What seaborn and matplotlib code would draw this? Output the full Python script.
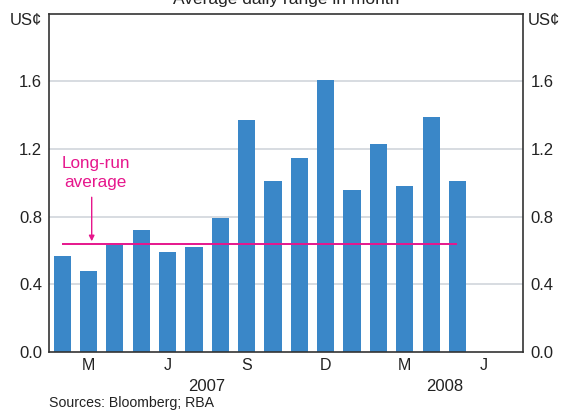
import numpy as np
import pandas as pd
import seaborn as sns
import matplotlib.pyplot as plt

# monthly data, Jan 2007 - Apr 2008 (axis runs to Jun 2008)
months = ["Jan-07", "Feb-07", "Mar-07", "Apr-07", "May-07", "Jun-07",
          "Jul-07", "Aug-07", "Sep-07", "Oct-07", "Nov-07", "Dec-07",
          "Jan-08", "Feb-08", "Mar-08", "Apr-08", "May-08", "Jun-08"]
avg_range = [0.57, 0.48, 0.63, 0.72, 0.59, 0.62, 0.79, 1.37,
             1.01, 1.15, 1.61, 0.96, 1.23, 0.98, 1.39, 1.01]
long_run_avg = 0.64

quarter_labels = ["M", "J", "S", "D", "M", "J"]
year_labels = ["2007", "2008"]
y_ticks = [0.0, 0.4, 0.8, 1.2, 1.6]

df = pd.DataFrame({"month": months[:len(avg_range)], "range": avg_range})

sns.set_style("white")
plt.rcParams["font.family"] = ["Liberation Sans", "DejaVu Sans"]

bar_col = "#3a87c8"
pink = "#e6168c"
dark = "#333333"
txt = "#222222"

fig = plt.figure(figsize=(5.64, 4.12), dpi=100)
ax = fig.add_axes([0.0869, 0.1456, 0.841, 0.821])

sns.barplot(data=df, x="month", y="range", order=months, color=bar_col,
            saturation=1, width=0.65, ax=ax)
for p in ax.patches:
    p.set_edgecolor("none")

ax.set_xlim(-0.5, len(months) - 0.5)
ax.set_ylim(0, 2.0)
ax.set_xlabel("")
ax.set_ylabel("")

for y in y_ticks[1:]:
    ax.axhline(y, color="#cdd2d9", lw=1.1, zorder=0)

# long-run average
ax.hlines(long_run_avg, 0, len(avg_range) - 1, color=pink, lw=1.4, zorder=3)
ax.annotate("", xy=(1.12, long_run_avg + 0.015), xytext=(1.12, 0.915),
            arrowprops=dict(arrowstyle="-|>", color=pink, lw=1,
                            mutation_scale=8, shrinkA=0, shrinkB=0))
ax.text(1.27, 1.06, "Long-run\naverage", color=pink, fontsize=12.3,
        ha="center", va="center", linespacing=1.35)

# y axes on both sides
ax.set_yticks(y_ticks)
ax.set_yticklabels(["%.1f" % v for v in y_ticks])
ax.tick_params(axis="y", length=0, labelsize=12, colors=txt, pad=5,
               labelright=True, labelleft=True)
ax.text(-0.0148, 0.9666, "US¢", transform=ax.transAxes, ha="right",
        va="baseline", fontsize=12, color=txt)
ax.text(1.0099, 0.9666, "US¢", transform=ax.transAxes, ha="left",
        va="baseline", fontsize=12, color=txt)

# x axis: quarter labels, boundary ticks, years
q_pos = np.arange(1, len(months), 3)
ax.set_xticks(q_pos)
ax.set_xticklabels(quarter_labels)
ax.tick_params(axis="x", which="major", length=0, labelsize=11.5,
               colors=txt, pad=4)
ax.set_xticks(np.arange(2.5, len(months) - 1, 3), minor=True)
ax.tick_params(axis="x", which="minor", direction="in", length=5,
               width=0.8, color="#555555")
for lab, xp in zip(year_labels, [5.5, 14.5]):
    ax.text(xp, -0.102, lab, ha="center", va="center", fontsize=12,
            color=txt, transform=ax.get_xaxis_transform())

for s in ax.spines.values():
    s.set_color(dark)
    s.set_linewidth(1.2)

fig.text(0.5071, 0.9915, "Average daily range in month", ha="center",
         va="baseline", fontsize=12.5, color=txt)
fig.text(0.0869, 0.012, "Sources: Bloomberg; RBA", ha="left",
         va="baseline", fontsize=10.2, color=txt)

fig.savefig("out.png", dpi=100)
